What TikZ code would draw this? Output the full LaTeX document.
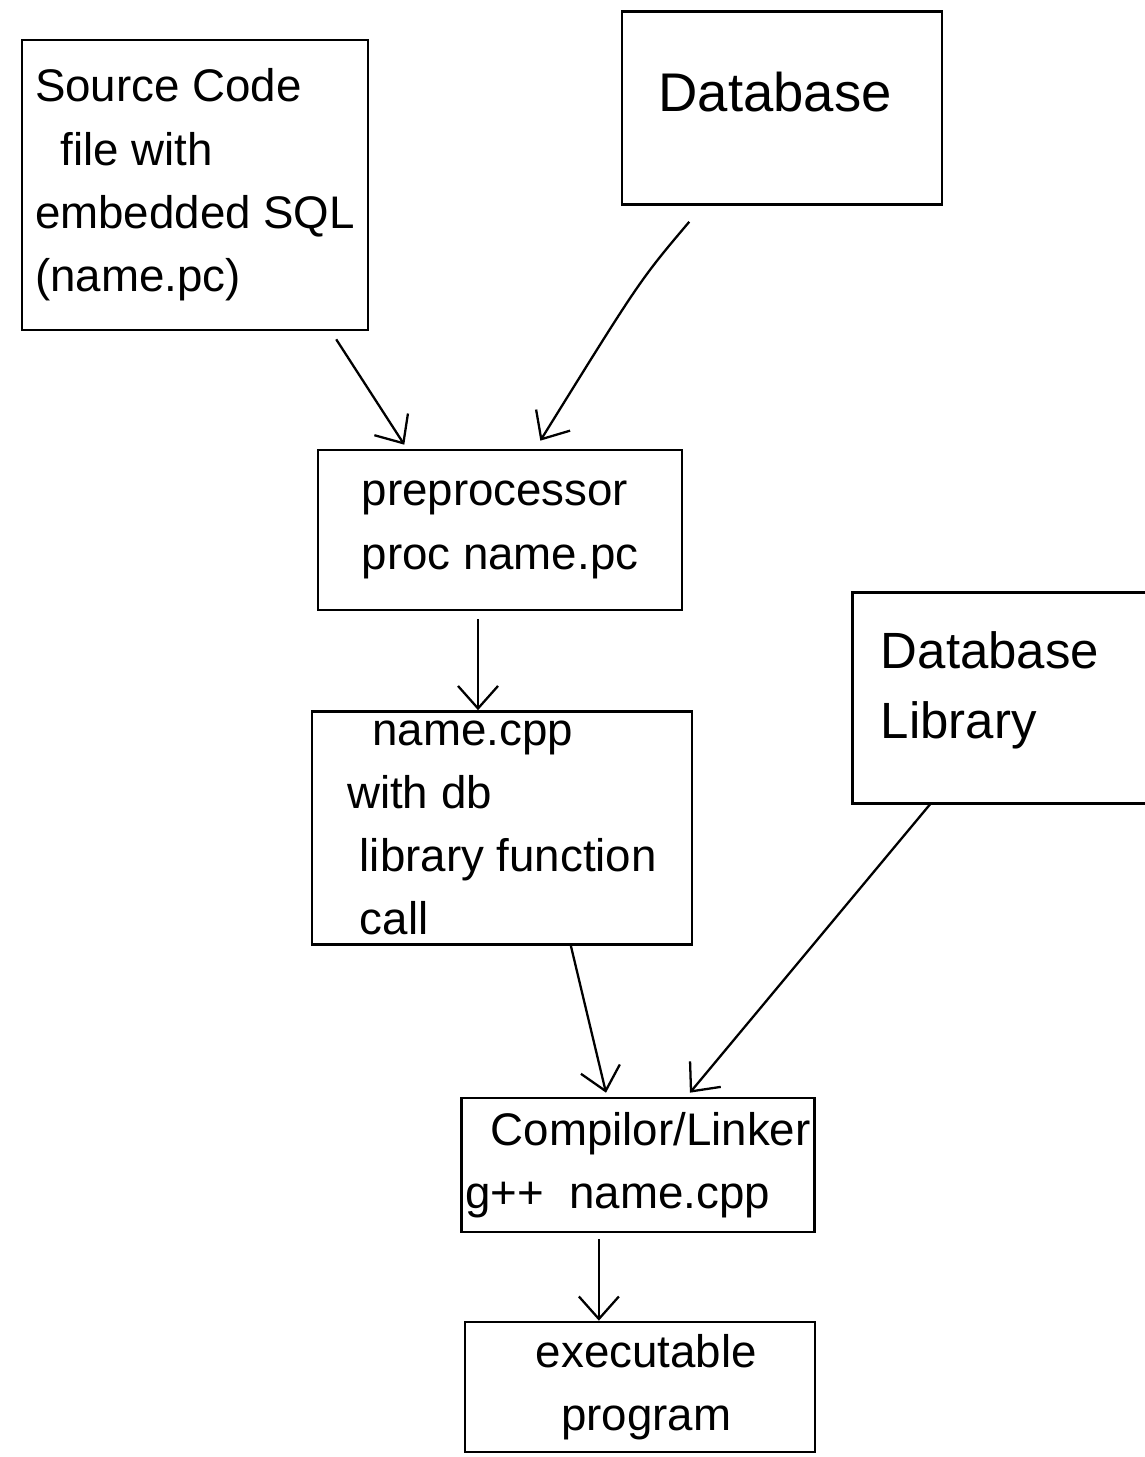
\documentclass[tikz,border=0pt]{standalone}
\usepackage{fontspec}
\setmainfont{Liberation Sans}
\usetikzlibrary{arrows.meta,calc}
\begin{document}
\begin{tikzpicture}[x=0.02cm,y=-0.02cm,
  box/.style={draw,line width=1.5pt,inner sep=0pt,align=left,font=\fontsize{26}{36}\selectfont},
  txt/.style={inner sep=0pt,align=left,font=\fontsize{26}{36}\selectfont},
  arr/.style={line width=1.3pt,-{Straight Barb[length=4.5mm,width=8mm,line width=1.3pt]}}]
\useasboundingbox (0,0) rectangle (1144,1457);
% boxes
\node[box,minimum width=346*0.02cm,minimum height=290*0.02cm] (src) at (195,185) {Source Code\\\ \ file with\\embedded SQL\\(name.pc)};
\node[box,minimum width=320*0.02cm,minimum height=193*0.02cm] (db) at (782,108) {};
\node[txt,font=\fontsize{31}{36}\selectfont] (dbt) at (775,92) {Database};
\node[box,minimum width=364*0.02cm,minimum height=160*0.02cm] (pre) at (500,530) {preprocessor\\proc name.pc};
\node[box,minimum width=380*0.02cm,minimum height=233*0.02cm] (cpp) at (502,828) {\ \ name.cpp\\with db\\\ library function\\\ call};
\node[minimum width=300*0.02cm,minimum height=210*0.02cm,inner sep=0pt] (dbl) at (1003,698) {};
\draw[line width=1.5pt] (dbl.north east) -- (dbl.north west) -- (dbl.south west) -- (dbl.south east);
\node[txt,font=\fontsize{29}{40}\selectfont] (dblt) at (990,690) {Database\\Library};
\node[box,minimum width=353*0.02cm,minimum height=134*0.02cm] (comp) at (638,1165) {\ \ Compilor/Linker\\g++\ \ name.cpp};
\node[box,minimum width=350*0.02cm,minimum height=130*0.02cm] (exe) at (640,1387) {\ executable\\\ \ \ program};
% arrows
\draw[arr] ($(src.south west)!0.905!(src.south east)+(0,8)$) -- ($(pre.north west)!0.239!(pre.north east)+(0,-4)$);
\draw[arr] ($(db.south west)!0.2125!(db.south east)+(0,16)$) .. controls (640,280) .. ($(pre.north west)!0.61!(pre.north east)+(0,-8)$);
\coordinate (p1) at ($(pre.south west)!0.44!(pre.south east)+(0,8)$);
\draw[arr] (p1) -- (p1 |- cpp.north);
\draw[arr] ($(cpp.south west)!0.68!(cpp.south east)$) -- ($(comp.north west)!0.41!(comp.north east)+(0,-4)$);
\draw[arr] ($(dbl.south west)!0.26!(dbl.south east)$) -- ($(comp.north west)!0.646!(comp.north east)+(0,-4)$);
\coordinate (p2) at ($(comp.south west)!0.39!(comp.south east)+(0,6)$);
\draw[arr] (p2) -- (p2 |- exe.north);
\end{tikzpicture}
\end{document}
